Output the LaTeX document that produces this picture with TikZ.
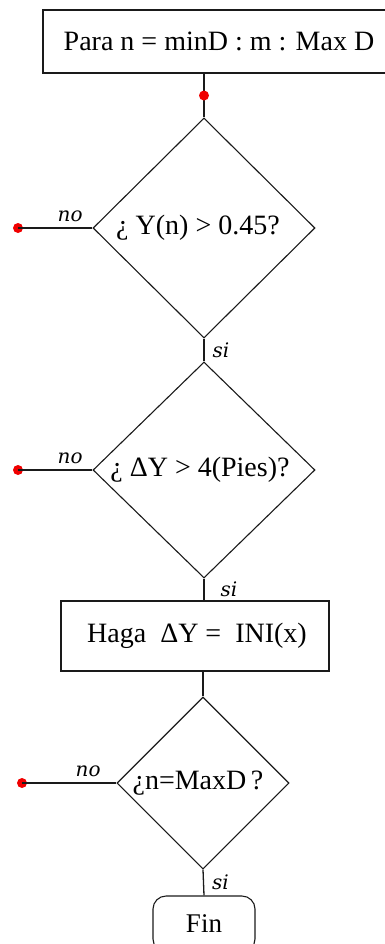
\documentclass[tikz,border=0pt]{standalone}
\usepackage{fontspec}
\setmainfont{Liberation Serif}
\newfontfamily\lblfont{DejaVu Serif}
\usepackage{tikz}
\usetikzlibrary{positioning,shapes.geometric}
\definecolor{fcred}{HTML}{F00000}
\definecolor{fcline}{HTML}{1A1A1A}
\tikzset{
  proc/.style = {rectangle, draw=fcline, line width=1.2pt, inner sep=0pt,
                 font=\fontsize{28}{30}\selectfont, align=center},
  cond/.style = {diamond, draw=fcline, line width=1.1pt, inner sep=0pt,
                 font=\fontsize{28}{30}\selectfont, align=center},
  fin/.style  = {rectangle, rounded corners=13pt, draw=fcline, line width=1.1pt,
                 minimum width=102pt, minimum height=56pt, inner sep=0pt,
                 font=\fontsize{27}{29}\selectfont},
  ln/.style   = {draw=fcline, line width=1.3pt},
  lbl/.style  = {font=\lblfont\itshape\fontsize{20}{22}\selectfont, inner sep=2pt},
  dot/.style  = {circle, fill=fcred, inner sep=0pt, minimum size=10pt},
}
\begin{document}
\begin{tikzpicture}[x=1pt,y=-1pt]
  \useasboundingbox (0,0) rectangle (384,944);
  % blocks
  \node[proc, minimum width=352pt, minimum height=63pt] (para) at (219,41.5)
    {Para n = minD : m : Max D};
  \node[cond, minimum width=222pt, minimum height=220pt] (cy) at (204,228)
    {\hspace*{-12pt}¿ Y(n) > 0.45?};
  \node[cond, minimum width=222pt, minimum height=216pt] (cdy) at (204,470)
    {\hspace*{-8pt}¿ ΔY > 4(Pies)?};
  \node[proc, minimum width=268pt, minimum height=70pt] (haga) at (195,636)
    {\hspace*{4pt}Haga \ ΔY = \ INI(x)};
  \node[cond, minimum width=172pt, minimum height=172pt] (cn) at (203,783)
    {\hspace*{-10pt}¿n=MaxD\,?};
  \node[fin] (fin) at (204,924) {Fin};
  % loose ends on the left
  \foreach \c/\x/\y in {ey/18/228, edy/18/470, en/22/783}{
    \coordinate (\c) at (\x,\y);
    \node[dot] at (\c) {};
  }
  % connectors
  \draw[ln] (para.south -| cy.north) -- node[dot] {} (cy.north);
  \draw[ln] (cy.south) -- node[lbl, right=6pt] {si} (cdy.north);
  \draw[ln] (cdy.south) -- node[lbl, right=14pt] {si} (cdy.south |- haga.north);
  \draw[ln] (haga.south -| cn.north) -- (cn.north);
  \draw[ln] (cn.south) -- node[lbl, right=6pt] {si} (fin.north);
  \foreach \d/\c in {cy/ey, cdy/edy, cn/en}{
    \draw[ln] (\d.west) -- node[lbl, above=4pt, pos=0.3] {no} (\c);
  }
\end{tikzpicture}
\end{document}
